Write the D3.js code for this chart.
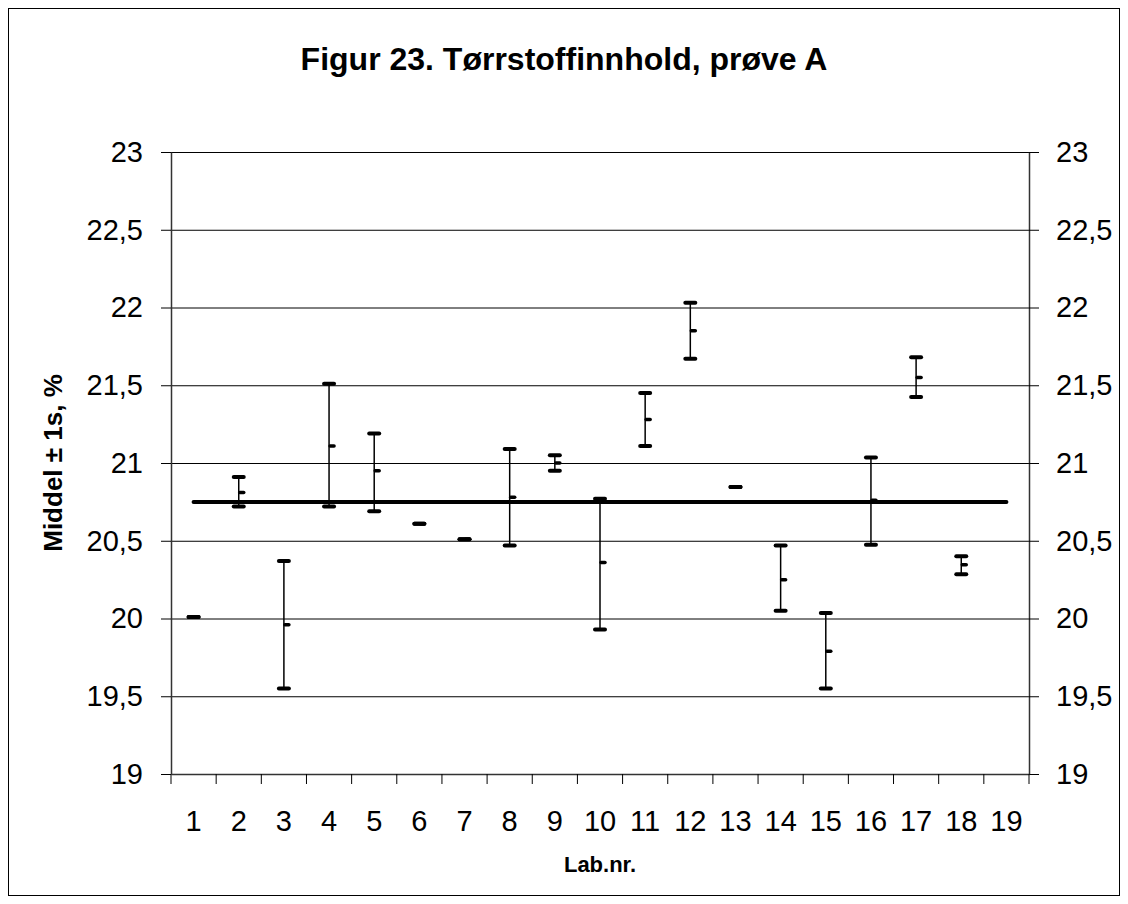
<!DOCTYPE html>
<html>
<head>
<meta charset="utf-8">
<script src="https://cdn.jsdelivr.net/npm/d3@7"></script>
<style>
  body { margin: 0; background: #fff; }
  text { font-family: "Liberation Sans", Arial, sans-serif; fill: #000; }
</style>
</head>
<body>
<svg id="chart" width="1128" height="904"></svg>
<script>
// Chart data
const labs = ["1", "2", "3", "4", "5", "6", "7", "8", "9", "10", "11", "12", "13", "14", "15", "16", "17", "18", "19"];
const highs = [20.01, 20.91, 20.37, 21.51, 21.19, 20.61, 20.51, 21.09, 21.05, 20.77, 21.45, 22.03, 20.845, 20.47, 20.035, 21.035, 21.68, 20.40, null];
const means = [20.01, 20.81, 19.96, 21.11, 20.95, 20.61, 20.51, 20.78, 21.00, 20.36, 21.28, 21.85, 20.845, 20.25, 19.79, 20.76, 21.55, 20.345, null];
const lows = [20.01, 20.72, 19.55, 20.72, 20.69, 20.61, 20.51, 20.47, 20.95, 19.93, 21.11, 21.67, 20.845, 20.05, 19.55, 20.475, 21.425, 20.285, null];
const refValue = 20.75;
const yTicks = [19, 19.5, 20, 20.5, 21, 21.5, 22, 22.5, 23];

const title = "Figur 23. Tørrstoffinnhold, prøve A";
const yTitle = "Middel ± 1s, %";
const xTitle = "Lab.nr.";

const svg = d3.select("#chart");

// Outer frame
svg.append("rect")
  .attr("x", 8.5).attr("y", 8.5)
  .attr("width", 1111).attr("height", 887)
  .attr("fill", "none").attr("stroke", "#000").attr("stroke-width", 1);

const plot = { left: 171, right: 1029, top: 152, bottom: 774 };

const x = d3.scaleBand().domain(labs).range([plot.left, plot.right]).padding(0);
const y = d3.scaleLinear().domain([19, 23]).range([plot.bottom, plot.top]);
const cx = (d) => x(d) + x.bandwidth() / 2;

const comma = d3.formatLocale({ decimal: ",", thousands: " ", grouping: [3], currency: ["", ""] }).format(",~g");

const rows = labs.map((lab, i) => ({ lab, hi: highs[i], mean: means[i], lo: lows[i] }))
  .filter((d) => d.mean != null);

// Gridlines
svg.append("g")
  .selectAll("line")
  .data(yTicks.filter((t) => t > 19))
  .enter()
  .append("line")
  .attr("x1", plot.left).attr("x2", plot.right)
  .attr("y1", (d) => y(d) + 0.5).attr("y2", (d) => y(d) + 0.5)
  .attr("stroke", "#000").attr("stroke-width", 1);

// Axes
const leftAxis = svg.append("g")
  .attr("transform", `translate(${plot.left},0)`)
  .call(d3.axisLeft(y).tickValues(yTicks).tickFormat(comma).tickSize(10).tickSizeOuter(0).tickPadding(18));
const rightAxis = svg.append("g")
  .attr("transform", `translate(${plot.right},0)`)
  .call(d3.axisRight(y).tickValues(yTicks).tickFormat(comma).tickSize(10).tickSizeOuter(0).tickPadding(17));
const bottomAxis = svg.append("g")
  .attr("transform", `translate(0,${plot.bottom})`)
  .call(d3.axisBottom(x).tickSize(0).tickSizeOuter(0).tickPadding(36));

[leftAxis, rightAxis, bottomAxis].forEach((g) => {
  g.selectAll("text").style("font-size", "29px").style("font-family", "'Liberation Sans', Arial, sans-serif");
  g.selectAll("line").attr("stroke", "#000");
  g.select(".domain").attr("stroke", "#333").attr("stroke-width", 1.5);
});

// category tick marks on band boundaries
svg.append("g")
  .selectAll("line")
  .data(labs.map((d) => x(d)).concat([plot.right]))
  .enter()
  .append("line")
  .attr("x1", (d) => d).attr("x2", (d) => d)
  .attr("y1", plot.bottom).attr("y2", plot.bottom + 10)
  .attr("stroke", "#000").attr("stroke-width", 1);

// Reference line
svg.append("line")
  .attr("x1", cx(labs[0])).attr("x2", cx(labs[labs.length - 1]))
  .attr("y1", y(refValue)).attr("y2", y(refValue))
  .attr("stroke", "#000").attr("stroke-width", 4).attr("stroke-linecap", "round");

// Error bars
const bars = svg.append("g").selectAll("g").data(rows).enter().append("g");

bars.append("line")
  .attr("x1", (d) => cx(d.lab)).attr("x2", (d) => cx(d.lab))
  .attr("y1", (d) => y(d.hi)).attr("y2", (d) => y(d.lo))
  .attr("stroke", "#000").attr("stroke-width", 1.5);

["hi", "lo"].forEach((k) => {
  bars.append("line")
    .attr("x1", (d) => cx(d.lab) - 5).attr("x2", (d) => cx(d.lab) + 5)
    .attr("y1", (d) => y(d[k])).attr("y2", (d) => y(d[k]))
    .attr("stroke", "#000").attr("stroke-width", 4).attr("stroke-linecap", "round");
});

bars.append("line")
  .attr("x1", (d) => cx(d.lab) + 1).attr("x2", (d) => cx(d.lab) + 5)
  .attr("y1", (d) => y(d.mean)).attr("y2", (d) => y(d.mean))
  .attr("stroke", "#000").attr("stroke-width", 3.5).attr("stroke-linecap", "round");

// Titles
svg.append("text")
  .attr("x", 564).attr("y", 70)
  .attr("text-anchor", "middle")
  .style("font-size", "32px").style("font-weight", "bold")
  .text(title);

svg.append("text")
  .attr("transform", `translate(61.5,${(plot.top + plot.bottom) / 2}) rotate(-90)`)
  .attr("text-anchor", "middle")
  .style("font-size", "26px").style("font-weight", "bold")
  .text(yTitle);

svg.append("text")
  .attr("x", (plot.left + plot.right) / 2).attr("y", 872)
  .attr("text-anchor", "middle")
  .style("font-size", "22px").style("font-weight", "bold")
  .text(xTitle);
</script>
</body>
</html>
